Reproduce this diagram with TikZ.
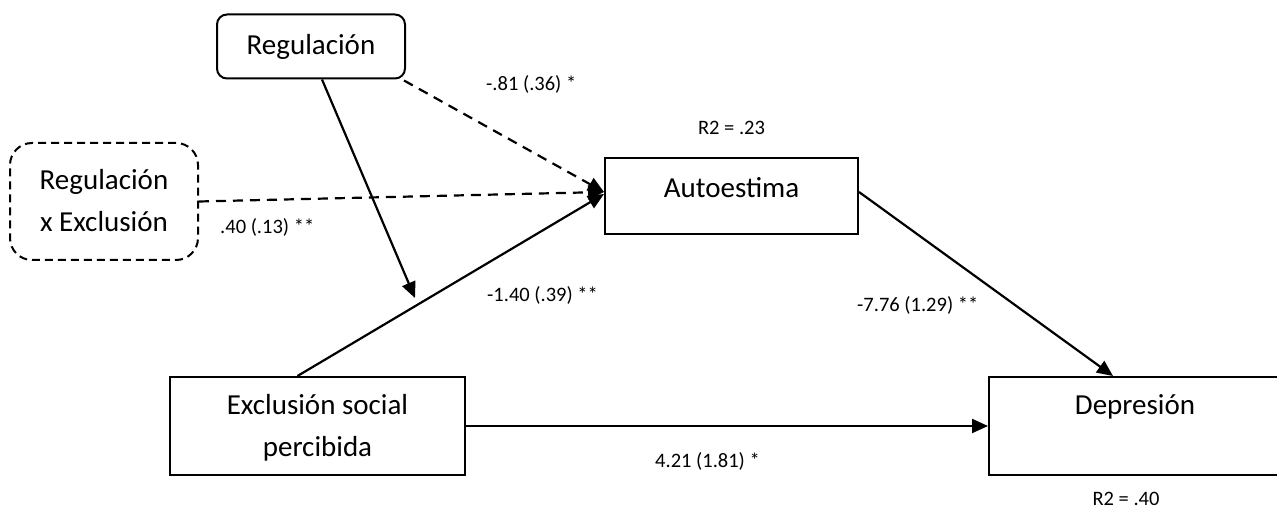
\documentclass[tikz,border=0pt]{standalone}
\usepackage{fontspec}
\setmainfont{Carlito}
\usetikzlibrary{arrows.meta}
\begin{document}
\begin{tikzpicture}[x=1pt,y=-1pt,
  boxstyle/.style={draw, line width=2pt, inner sep=0pt},
  boxtext/.style={font=\fontsize{29}{42}\selectfont, align=center, inner sep=0pt},
  lbl/.style={font=\fontsize{20.5}{24}\selectfont, inner sep=0pt},
  solidarrow/.style={line width=2.2pt, -{Triangle[length=16pt,width=14pt]}},
  dasharrow/.style={line width=2.2pt, dash pattern=on 10pt off 7pt, -{Triangle[length=16pt,width=14pt]}}
]
\useasboundingbox (0,0) rectangle (1277,510);
% boxes
\node[boxstyle, rounded corners=10pt, minimum width=188pt, minimum height=64pt] (reg) at (311,46.5) {};
\node[boxstyle, rounded corners=22pt, dash pattern=on 8pt off 5pt, minimum width=188pt, minimum height=117pt] (rxe) at (104,201.5) {};
\node[boxstyle, minimum width=253pt, minimum height=76pt] (auto) at (731.5,196) {};
\node[boxstyle, minimum width=295pt, minimum height=98pt] (excl) at (317.5,426) {};
\node[boxstyle, minimum width=292pt, minimum height=98pt] (dep) at (1135,426) {};
% box texts
\node[boxtext] (regt) at (311,47) {Regulación};
\node[boxtext] (rxet) at (104,201) {Regulación\\x Exclusión};
\node[boxtext] (autot) at (731.5,188) {Autoestima};
\node[boxtext] (exclt) at (317.5,428) {Exclusión social\\percibida};
\node[boxtext] (dept) at (1135,407) {Depresión};
% labels
\node[lbl, anchor=west] (l1) at (486,84) {-.81 (.36) *};
\node[lbl] (r1) at (731.5,128) {R2 = .23};
\node[lbl, anchor=west] (l2) at (220,227) {.40 (.13) **};
\node[lbl, anchor=west] (l3) at (487,295) {-1.40 (.39) **};
\node[lbl, anchor=west] (l4) at (857,305) {-7.76 (1.29) **};
\node[lbl, anchor=west] (l5) at (655,461) {4.21 (1.81) *};
\node[lbl] (r2) at (1126,499) {R2 = .40};
% connectors
\coordinate (m) at (415,298);
\draw[solidarrow] ([xshift=11pt]reg.south) -- (m);
\draw[dasharrow] ([xshift=-2pt,yshift=-1pt]reg.south east) -- ([yshift=4pt]auto.west);
\draw[dasharrow] (rxe.east) -- ([yshift=4pt]auto.west);
\draw[solidarrow] ([xshift=-20pt]excl.north) -- ([yshift=2pt]auto.west);
\draw[solidarrow] ([yshift=4pt]auto.east) -- ([xshift=-22pt]dep.north);
\draw[solidarrow] (excl.east) -- (dep.west);
\end{tikzpicture}
\end{document}
